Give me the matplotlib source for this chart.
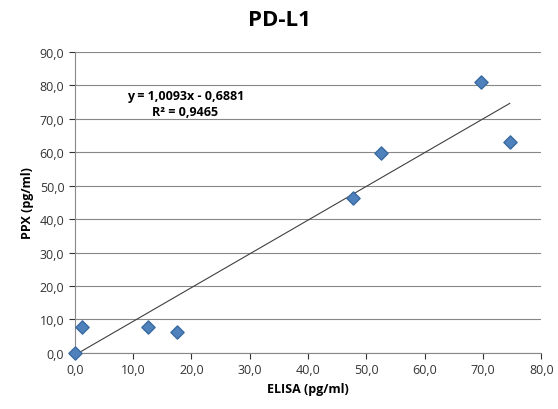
import matplotlib
matplotlib.use("Agg")
import matplotlib.pyplot as plt
import numpy as np

elisa = [0.0, 1.3, 12.6, 17.5, 47.8, 52.6, 69.6, 74.6]
ppx = [0.0, 7.8, 7.8, 6.1, 46.2, 59.7, 81.1, 63.1]
slope, intercept = 1.0093, -0.6881
xticks = np.arange(0, 81, 10)
yticks = np.arange(0, 91, 10)

plt.rcParams['font.family'] = ['Open Sans', 'DejaVu Sans']
fig = plt.figure(figsize=(5.58, 4.10), dpi=100)
ax = fig.add_axes([0.134, 0.137, 0.836, 0.734])
ax.set_xlim(0, 80); ax.set_ylim(0, 90)
ax.set_xticks(xticks); ax.set_yticks(yticks)
ax.set_xticklabels([f"{v:.1f}".replace('.', ',') for v in xticks], fontsize=9)
ax.set_yticklabels([f"{v:.1f}".replace('.', ',') for v in yticks], fontsize=9)
ax.grid(axis='y', color='#888888', linewidth=0.8)
ax.set_axisbelow(True)
for s in ['top', 'right']:
    ax.spines[s].set_visible(False)
for s in ['left', 'bottom']:
    ax.spines[s].set_color('#888888')
ax.tick_params(colors='#333333', length=4, direction='out')
xl = np.array([0, max(elisa)])
ax.plot(xl, slope * xl + intercept, color='#404040', linewidth=0.8, clip_on=False)
ax.scatter(elisa, ppx, marker='D', s=45, color='#4F81BD', edgecolor='#3A6AA0', zorder=3, clip_on=False)
ax.text(0.237, 0.845, f"y = {slope:.4f}x - {-intercept:.4f}".replace('.', ','), transform=ax.transAxes,
        ha='center', fontsize=9, fontweight='bold')
ax.text(0.237, 0.79, "R² = 0,9465", transform=ax.transAxes, ha='center', fontsize=9, fontweight='bold')
ax.set_xlabel("ELISA (pg/ml)", fontsize=9, fontweight='bold')
ax.set_ylabel("PPX (pg/ml)", fontsize=9, fontweight='bold')
fig.suptitle("PD-L1", fontsize=16, fontweight='bold', y=0.975)
fig.savefig("out.png", dpi=100)
